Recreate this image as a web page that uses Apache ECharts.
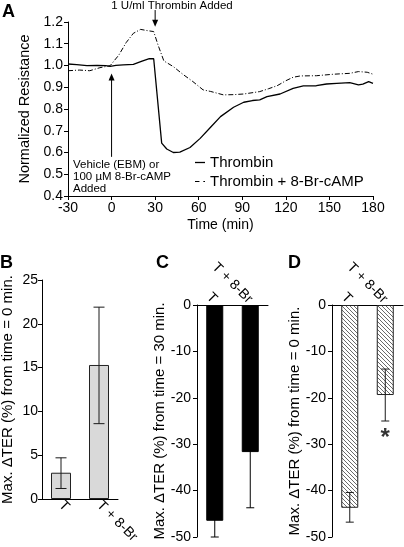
<!DOCTYPE html>
<html><head><meta charset="utf-8">
<script src="https://cdn.jsdelivr.net/npm/echarts@6/dist/echarts.min.js"></script>
<style>html,body{margin:0;padding:0;background:#fff}#c{width:404px;height:547px}</style>
</head><body><div id="c"></div>
<script>
const FONT = '"Liberation Sans", Arial, Helvetica, sans-serif';

// Panel A data
const thrombinTime  = [-30,-24,-17,-10,-4,-1,3,8,15,21,26,29,34.5,38,42.5,47,54,61,68,75,84,91,97,102,107,116,125,132,141,148,155,164,170,173,177,180];
const thrombinValue = [1.007,1.004,0.999,1.001,0.999,0.996,1.001,1.003,1.005,1.02,1.032,1.031,0.643,0.616,0.600,0.602,0.623,0.665,0.715,0.765,0.808,0.831,0.839,0.842,0.857,0.869,0.895,0.906,0.907,0.915,0.918,0.921,0.911,0.914,0.926,0.918];
const campTime  = [-30,-22,-15,-8,-1,5,10,15,20,25,29,32,36,42.5,49,56,63,68,77,84,91,102,108,114,120,125,130,141,153,164,170,176,180];
const campValue = [0.976,0.979,0.976,0.99,0.999,1.048,1.105,1.148,1.166,1.16,1.156,1.094,1.021,0.995,0.96,0.926,0.888,0.881,0.865,0.866,0.869,0.88,0.893,0.907,0.93,0.946,0.952,0.953,0.96,0.964,0.972,0.969,0.96];
const seriesNames = ['Thrombin', 'Thrombin + 8-Br-cAMP'];

// Panels B-D data
const barCategories = ['T', 'T + 8-Br'];
const panelBMean = [3.0, 15.3];
const panelBLow  = [1.2, 8.6];
const panelBHigh = [4.7, 21.9];
const panelCMean = [-46.5, -31.7];
const panelCLow  = [-50.0, -43.7];
const panelCHigh = [-43.0, -19.7];
const panelDMean = [-43.7, -19.4];
const panelDLow  = [-46.8, -25.0];
const panelDHigh = [-40.4, -13.8];
const significance = [[1, -28.7]];

const pairs = (xs, ys) => xs.map((x, i) => [x, ys[i]]);
const errData = (lo, hi) => lo.map((l, i) => [i, l, hi[i]]);

function hatchCanvas() {
  const c = document.createElement('canvas');
  c.width = 4; c.height = 4;
  const g = c.getContext('2d');
  g.fillStyle = '#fff'; g.fillRect(0, 0, 4, 4);
  g.strokeStyle = '#6a6a6a'; g.lineWidth = 1;
  g.beginPath();
  g.moveTo(-1, -1); g.lineTo(5, 5);
  g.moveTo(-1, 3); g.lineTo(1, 5);
  g.moveTo(3, -1); g.lineTo(5, 1);
  g.stroke();
  return c;
}

function errRender(capW, color) {
  return function (params, api) {
    const x = api.value(0);
    const lo = api.coord([x, api.value(1)]);
    const hi = api.coord([x, api.value(2)]);
    const c = capW / 2;
    const st = { stroke: color, lineWidth: 1 };
    return { type: 'group', children: [
      { type: 'line', shape: { x1: lo[0], y1: lo[1], x2: hi[0], y2: hi[1] }, style: st },
      { type: 'line', shape: { x1: lo[0] - c, y1: lo[1], x2: lo[0] + c, y2: lo[1] }, style: st },
      { type: 'line', shape: { x1: hi[0] - c, y1: hi[1], x2: hi[0] + c, y2: hi[1] }, style: st }
    ]};
  };
}

const axisLine = { show: true, onZero: false, lineStyle: { color: '#000', width: 1 } };
const lbl = (extra) => Object.assign({ color: '#000', fontSize: 14, fontFamily: FONT }, extra || {});
const nameStyle = (size) => ({ color: '#000', fontSize: size, fontFamily: FONT });

const chart = echarts.init(document.getElementById('c'), null, { renderer: 'canvas' });

const yBarAxis = (gi, min, max, interval, margin, gap) => ({
  type: 'value', gridIndex: gi, min, max, interval,
  axisLine, axisTick: { show: true, length: 4, lineStyle: { color: '#000' } },
  axisLabel: lbl({ margin }), splitLine: { show: false },
  name: gi === 2 ? 'Max. \u0394TER (%) from time = 30 min.' : 'Max. \u0394TER (%) from time = 0 min.',
  nameLocation: 'middle', nameGap: gap, nameTextStyle: nameStyle(15)
});
const xBarAxis = (gi, pos, rot) => ({
  type: 'category', gridIndex: gi, data: barCategories, position: pos,
  axisLine, axisTick: { show: false },
  axisLabel: lbl({ rotate: rot, margin: 4, interval: 0 })
});

const gridBase = { outerBoundsMode: 'none', containLabel: false };

chart.setOption({
  animation: false,
  backgroundColor: '#fff',
  textStyle: { fontFamily: FONT },
  grid: [
    Object.assign({ left: 68, top: 22, width: 305, height: 174 }, gridBase),
    Object.assign({ left: 42, top: 280, width: 76, height: 219 }, gridBase),
    Object.assign({ left: 197, top: 305, width: 71, height: 232 }, gridBase),
    Object.assign({ left: 332, top: 305, width: 71, height: 232 }, gridBase)
  ],
  legend: {
    data: [
      { name: seriesNames[0], icon: 'path://M0,0H10V1.3H0Z' },
      { name: seriesNames[1], icon: 'path://M0,0H4V1.1H0Z M7.5,0H9V1.1H7.5Z' }
    ],
    orient: 'vertical', left: 190, top: 150,
    itemWidth: 10, itemHeight: 1.3, itemGap: 4,
    textStyle: { color: '#000', fontSize: 15, fontFamily: FONT },
    selectedMode: false
  },
  xAxis: [
    { type: 'value', gridIndex: 0, min: -30, max: 180, interval: 30,
      axisLine, axisTick: { show: true, length: 4, lineStyle: { color: '#000' } },
      axisLabel: lbl({ margin: 5 }), splitLine: { show: false },
      name: 'Time (min)', nameLocation: 'middle', nameGap: 22, nameTextStyle: nameStyle(14) },
    xBarAxis(1, 'bottom', -45),
    xBarAxis(2, 'top', 45),
    xBarAxis(3, 'top', 45)
  ],
  yAxis: [
    { type: 'value', gridIndex: 0, min: 0.4, max: 1.2, interval: 0.1,
      axisLine, axisTick: { show: true, length: 4, lineStyle: { color: '#000' } },
      axisLabel: lbl({ margin: 5, formatter: v => v.toFixed(1) }), splitLine: { show: false },
      name: 'Normalized Resistance', nameLocation: 'middle', nameGap: 35, nameTextStyle: nameStyle(14.5) },
    yBarAxis(1, 0, 25, 5, 4, 27),
    yBarAxis(2, -50, 0, 10, 6, 28),
    yBarAxis(3, -50, 0, 10, 6, 29)
  ],
  series: [
    { name: seriesNames[0], type: 'line', xAxisIndex: 0, yAxisIndex: 0, data: pairs(thrombinTime, thrombinValue),
      symbol: 'none', lineStyle: { color: '#000', width: 1.3 }, itemStyle: { color: '#000' } },
    { name: seriesNames[1], type: 'line', xAxisIndex: 0, yAxisIndex: 0, data: pairs(campTime, campValue),
      symbol: 'none', lineStyle: { color: '#000', width: 1, type: [5, 2, 1, 2] }, itemStyle: { color: '#000' } },
    { type: 'bar', xAxisIndex: 1, yAxisIndex: 1, data: panelBMean, barWidth: 20,
      itemStyle: { color: '#d9d9d9', borderColor: '#222', borderWidth: 1 } },
    { type: 'custom', xAxisIndex: 1, yAxisIndex: 1, data: errData(panelBLow, panelBHigh), renderItem: errRender(11, '#1a1a1a'), z: 5 },
    { type: 'bar', xAxisIndex: 2, yAxisIndex: 2, data: panelCMean, barWidth: 17,
      itemStyle: { color: '#000', borderColor: '#000', borderWidth: 1 } },
    { type: 'custom', xAxisIndex: 2, yAxisIndex: 2, data: errData(panelCLow, panelCHigh), renderItem: errRender(8, '#000'), z: 5 },
    { type: 'bar', xAxisIndex: 3, yAxisIndex: 3, data: panelDMean, barWidth: 17,
      itemStyle: { color: { image: hatchCanvas(), repeat: 'repeat' }, borderColor: '#222', borderWidth: 1 } },
    { type: 'custom', xAxisIndex: 3, yAxisIndex: 3, data: errData(panelDLow, panelDHigh), renderItem: errRender(8, '#1a1a1a'), z: 5 },
    { type: 'scatter', xAxisIndex: 3, yAxisIndex: 3, data: significance, symbolSize: 0, z: 6,
      label: { show: true, position: 'inside', formatter: '*', fontSize: 24, fontWeight: 'bold', color: '#000', fontFamily: FONT } }
  ]
});

function arrow(from, to) {
  const a = chart.convertToPixel({ gridIndex: 0 }, from);
  const b = chart.convertToPixel({ gridIndex: 0 }, to);
  const dir = b[1] > a[1] ? 1 : -1;
  return [
    { type: 'line', shape: { x1: a[0], y1: a[1], x2: b[0], y2: b[1] - dir * 5 }, style: { stroke: '#000', lineWidth: 1 }, z: 10 },
    { type: 'polygon', shape: { points: [[b[0], b[1]], [b[0] - 3, b[1] - dir * 7], [b[0] + 3, b[1] - dir * 7]] }, style: { fill: '#000' }, z: 10 }
  ];
}

const txt = (x, y, text, size, extra) => ({ type: 'text', x, y, z: 10,
  style: Object.assign({ text, fill: '#000', fontSize: size, fontFamily: FONT }, extra || {}) });

chart.setOption({
  graphic: [
    txt(2, 3, 'A', 18, { fontWeight: 'bold' }),
    txt(0, 254, 'B', 18, { fontWeight: 'bold' }),
    txt(156, 254, 'C', 18, { fontWeight: 'bold' }),
    txt(288, 254, 'D', 18, { fontWeight: 'bold' }),
    txt(172, 6, '1 U/ml Thrombin Added', 11.5, { align: 'center', verticalAlign: 'middle' }),
    txt(73, 159, 'Vehicle (EBM) or\n100 \u00b5M 8-Br-cAMP\nAdded', 11.5, { lineHeight: 12 }),
    ...arrow([30, 1.255], [30, 1.178]),
    ...arrow([0, 0.58], [0, 0.963])
  ]
});
</script></body></html>
